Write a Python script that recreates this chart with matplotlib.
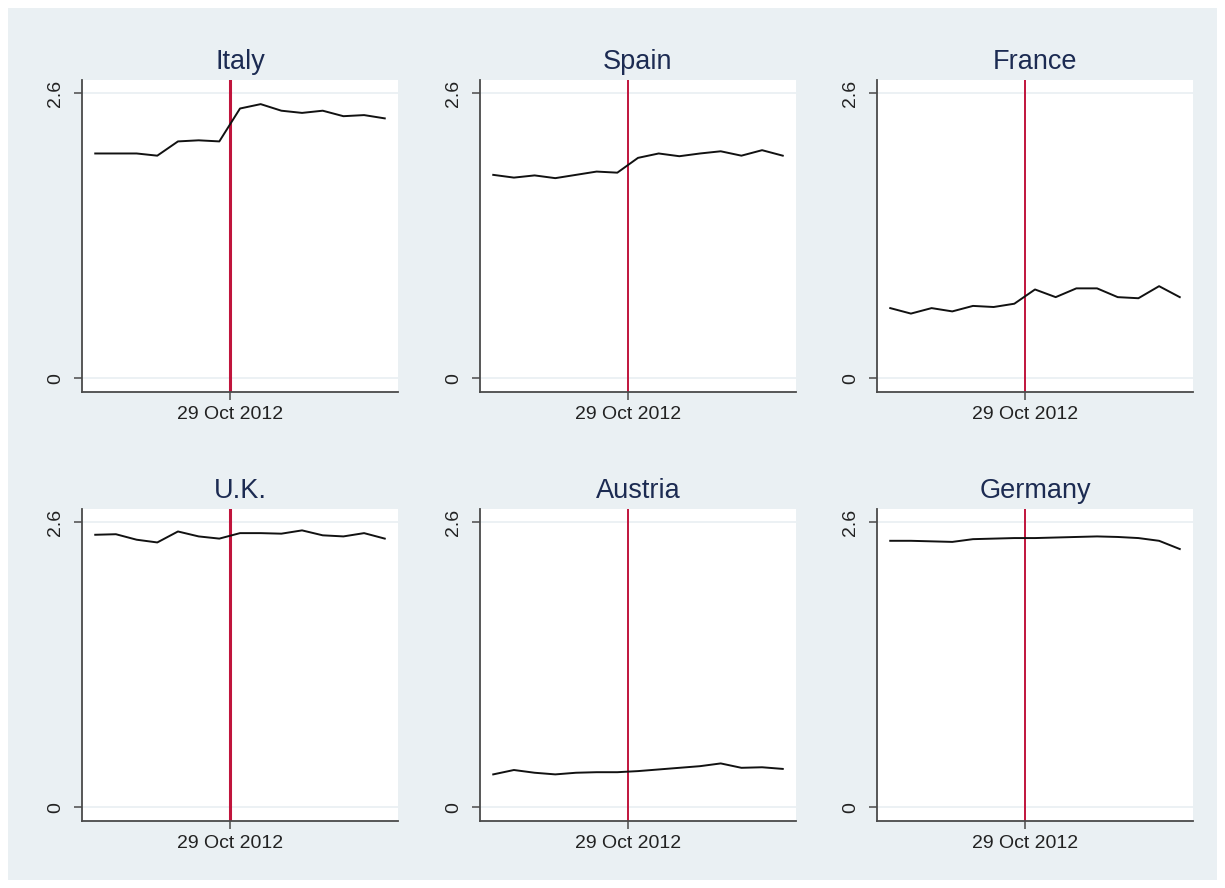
import matplotlib
matplotlib.use("Agg")
import matplotlib.pyplot as plt
from matplotlib.patches import Rectangle

plt.rcParams['font.family'] = ['Liberation Sans', 'DejaVu Sans']

# Weekly observations around the event date; the event falls between obs 6 and 7
countries = ["Italy", "Spain", "France", "U.K.", "Austria", "Germany"]
weeks = list(range(15))
event_x = 6.5
event_label = "29 Oct 2012"
y_ticks = [0, 2.6]
y_tick_labels = ["0", "2.6"]

italy = [2.05, 2.05, 2.05, 2.03, 2.16, 2.17, 2.16, 2.46, 2.50, 2.44, 2.42, 2.44, 2.39, 2.40, 2.37]
spain = [1.855, 1.83, 1.85, 1.825, 1.855, 1.885, 1.875, 2.01, 2.05, 2.025, 2.05, 2.07, 2.03, 2.08, 2.03]
france = [0.64, 0.59, 0.64, 0.61, 0.66, 0.65, 0.68, 0.81, 0.74, 0.82, 0.82, 0.74, 0.73, 0.84, 0.74]
uk = [2.485, 2.49, 2.44, 2.415, 2.515, 2.47, 2.45, 2.50, 2.50, 2.495, 2.525, 2.48, 2.47, 2.50, 2.45]
austria = [0.30, 0.34, 0.315, 0.30, 0.315, 0.32, 0.32, 0.33, 0.345, 0.36, 0.375, 0.40, 0.36, 0.365, 0.35]
germany = [2.43, 2.43, 2.425, 2.42, 2.445, 2.45, 2.455, 2.455, 2.46, 2.465, 2.47, 2.465, 2.455, 2.43, 2.355]

series = [italy, spain, france, uk, austria, germany]

W, H = 1225, 888
fig = plt.figure(figsize=(W / 100, H / 100), dpi=100)
fig.patch.set_facecolor("white")

# graph region behind all panels
bg = "#EAF0F3"
fig.patches.append(Rectangle((8 / W, 8 / H), (W - 16) / W, (H - 16) / H,
                             transform=fig.transFigure, facecolor=bg,
                             edgecolor="none", zorder=-10))

col_left = [82, 480, 877]
row_top = [80, 509]
ax_w, ax_h = 316, 312
event_lw = [2.2, 1.4, 1.4, 2.2, 1.4, 1.4]

axis_col = "#4a4a4a"
text_col = "#222222"
title_col = "#1c2b52"

for i, (name, vals) in enumerate(zip(countries, series)):
    r, c = divmod(i, 3)
    left = col_left[c] / W
    bottom = (H - row_top[r] - ax_h) / H
    ax = fig.add_axes([left, bottom, ax_w / W, ax_h / H])
    ax.set_zorder(5)
    ax.set_facecolor("white")
    ax.set_xlim(-0.64, 14.64)
    ax.set_ylim(-0.125, 2.72)

    for yv in y_ticks:
        ax.axhline(yv, color=bg, lw=1.3, zorder=1)

    ax.axvline(event_x, color="#C0143C", lw=event_lw[i], zorder=2)
    ax.plot(weeks, vals, color="#111111", lw=1.4, zorder=3)

    for s in ["top", "right"]:
        ax.spines[s].set_visible(False)
    for s in ["left", "bottom"]:
        ax.spines[s].set_color(axis_col)
        ax.spines[s].set_linewidth(1.3)

    ax.set_yticks(y_ticks)
    ax.set_yticklabels(y_tick_labels, rotation=90, va="center",
                       fontsize=14, color=text_col)
    ax.set_xticks([event_x])
    ax.set_xticklabels([event_label], fontsize=14, color=text_col)
    ax.tick_params(axis="y", length=6, width=1.1, color=axis_col, pad=7)
    ax.tick_params(axis="x", length=6, width=1.1, color=axis_col, pad=4)

    ax.set_title(name, fontsize=19.5, color=title_col, pad=8)

fig.savefig("out.png", dpi=100, facecolor=fig.get_facecolor())
